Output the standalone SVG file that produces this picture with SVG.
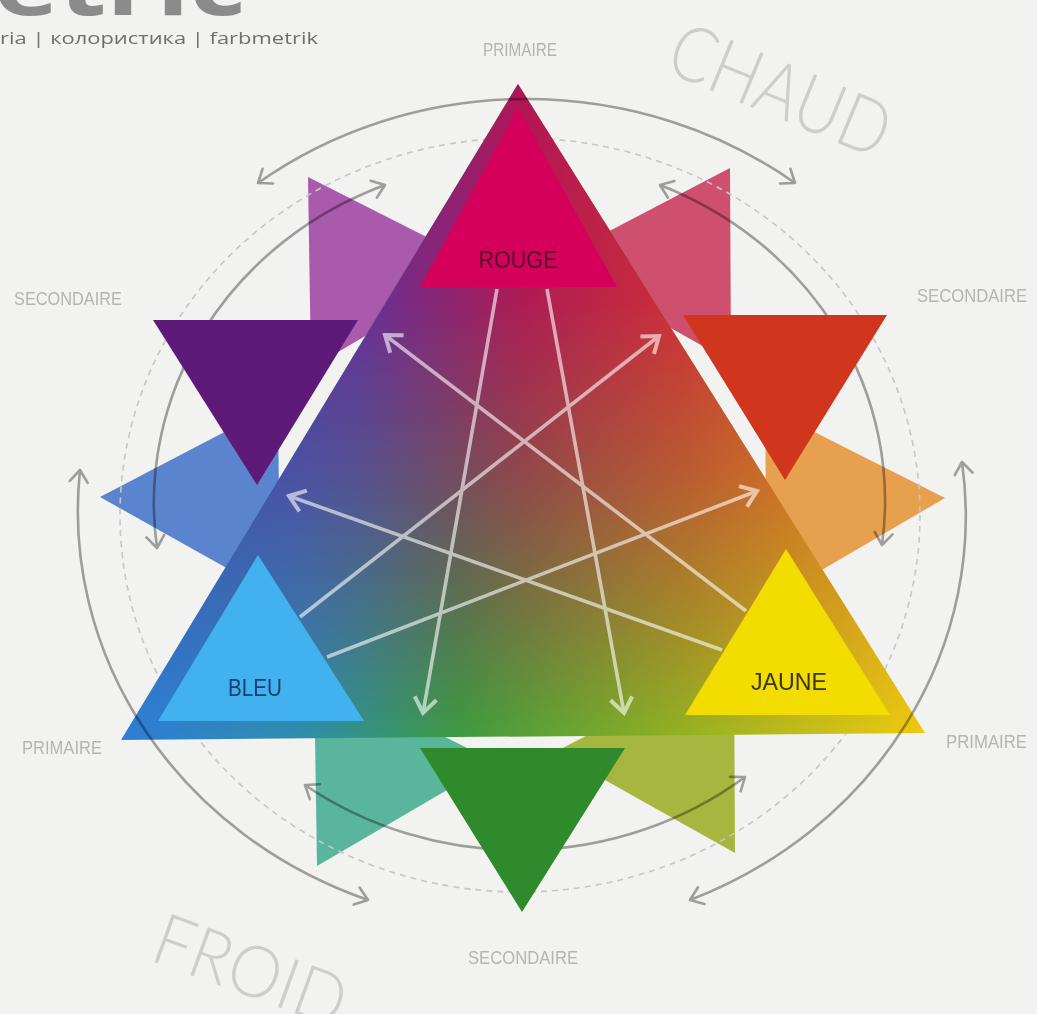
<svg xmlns="http://www.w3.org/2000/svg" width="1037" height="1014" viewBox="0 0 1037 1014">
<style>
.lbl{font-family:"Liberation Sans",Arial,sans-serif;font-size:18px;fill:#b4b4b4}
.big{font-family:Lato,Roboto,"Open Sans",sans-serif;font-weight:300;fill:#cdcdcd}
.prim{font-family:"Liberation Sans",Arial,sans-serif;font-size:23px}
.arc{fill:none;stroke:#a6a6a6;stroke-width:2.6}
</style>
<defs>
<marker id="ah" markerUnits="userSpaceOnUse" orient="auto-start-reverse" overflow="visible" markerWidth="30" markerHeight="30" refX="0" refY="0">
<path d="M-12,-9 L0,0 L-12,9" fill="none" stroke="#a6a6a6" stroke-width="2.6" stroke-linecap="round" stroke-linejoin="round"/>
</marker>
<marker id="wh" markerUnits="userSpaceOnUse" orient="auto" overflow="visible" markerWidth="30" markerHeight="30" refX="0" refY="0">
<path d="M-15,-11 L0,0 L-15,11" fill="none" stroke="#ffffff" stroke-width="4" stroke-linecap="butt" stroke-linejoin="miter"/>
</marker>
<clipPath id="bigClip"><polygon points="518,84 121,740 925,733"/></clipPath>
<linearGradient id="gBottom" gradientUnits="userSpaceOnUse" x1="121" y1="0" x2="925" y2="0">
<stop offset="0" stop-color="#2f7fd8"/>
<stop offset="0.22" stop-color="#2e8fb0"/>
<stop offset="0.42" stop-color="#3d9c40"/>
<stop offset="0.68" stop-color="#8db224"/>
<stop offset="1" stop-color="#f0cc10"/>
</linearGradient>
<linearGradient id="gTop" gradientUnits="userSpaceOnUse" x1="121" y1="0" x2="925" y2="0">
<stop offset="0" stop-color="#3a3aa8"/>
<stop offset="0.3" stop-color="#6a2a96"/>
<stop offset="0.5" stop-color="#b31456"/>
<stop offset="0.7" stop-color="#d0283a"/>
<stop offset="1" stop-color="#e06a20"/>
</linearGradient>
<linearGradient id="gMask" gradientUnits="userSpaceOnUse" x1="0" y1="84" x2="0" y2="740">
<stop offset="0" stop-color="#fff"/>
<stop offset="0.33" stop-color="#f2f2f2"/>
<stop offset="0.6" stop-color="#a0a0a0"/>
<stop offset="0.82" stop-color="#4a4a4a"/>
<stop offset="1" stop-color="#000"/>
</linearGradient>
<mask id="topMask" maskUnits="userSpaceOnUse" x="0" y="0" width="1037" height="1014">
<rect x="0" y="0" width="1037" height="1014" fill="url(#gMask)"/>
</mask>
</defs>

<rect width="1037" height="1014" fill="#f2f2f0"/>

<g id="title">
<text x="-6" y="15" font-family="'Open Sans',Lato,sans-serif" font-weight="bold" font-size="84" fill="#8b8b8b" textLength="252" lengthAdjust="spacingAndGlyphs">etric</text>
<text x="0" y="44" font-family="'Open Sans',Lato,sans-serif" font-size="17" fill="#6e6e6e" textLength="318" lengthAdjust="spacingAndGlyphs">ria | колористика | farbmetrik</text>
</g>

<g id="tertiaries">
<polygon id="t-orange" points="945,498 765,407 767,602" fill="#e7a04e"/>
<polygon id="t-pink" points="730,168 552,261 731,362" fill="#cf4f6e"/>
<polygon id="t-purple" points="308,177 311,368 484,266" fill="#a95aad"/>
<polygon id="t-blue" points="100,497 278,404 280,598" fill="#5b84cf"/>
<polygon id="t-teal" points="317,866 495,762 314,671" fill="#5ab59d"/>
<polygon id="t-yellowgreen" points="735,853 555,752 734,659" fill="#a7b63e"/>
</g>

<ellipse id="dashed-ring" cx="520" cy="515" rx="400" ry="377" fill="none" stroke="#c6c6c6" stroke-width="1.6" stroke-dasharray="6 5"/>

<g id="inner-arcs" style="mix-blend-mode:multiply">
<path class="arc" d="M385,185 A365,342 0 0 0 157,548" marker-start="url(#ah)" marker-end="url(#ah)"/>
<path class="arc" d="M660,185 A365,342 0 0 1 882,545" marker-start="url(#ah)" marker-end="url(#ah)"/>
<path class="arc" d="M305,785 A365,342 0 0 0 745,777" marker-start="url(#ah)" marker-end="url(#ah)"/>
</g>

<g id="secondaries">
<polygon id="s-violet" points="153,320 358,320 257,485" fill="#5e1a78"/>
<polygon id="s-redorange" points="683,315 887,315 785,480" fill="#d0361e"/>
<polygon id="s-green" points="420,748 625,748 522,912" fill="#2e8a2a"/>
</g>

<g id="primary-field">
<g clip-path="url(#bigClip)">
<rect x="100" y="80" width="850" height="670" fill="url(#gBottom)"/>
<rect x="100" y="80" width="850" height="670" fill="url(#gTop)" mask="url(#topMask)"/>
</g>
</g>

<g id="rouge">
<polygon points="518,108 420,287 617,287" fill="#d4005b"/>
<text class="prim" x="518" y="268" text-anchor="middle" fill="#52102c" textLength="79" lengthAdjust="spacingAndGlyphs">ROUGE</text>
</g>
<g id="bleu">
<polygon points="258,555 158,721 364,721" fill="#42b2ee"/>
<text class="prim" x="255" y="696" text-anchor="middle" fill="#1a3c78" textLength="54" lengthAdjust="spacingAndGlyphs">BLEU</text>
</g>
<g id="jaune">
<polygon points="786,549 685,715 890,715" fill="#f3dc00"/>
<text class="prim" x="789" y="690" text-anchor="middle" fill="#3a3512" textLength="76" lengthAdjust="spacingAndGlyphs">JAUNE</text>
</g>

<g id="mix-arrows" opacity="0.6" stroke="#ffffff" stroke-width="3.6" fill="none">
<line x1="497" y1="289" x2="423" y2="713" marker-end="url(#wh)"/>
<line x1="547" y1="289" x2="624" y2="713" marker-end="url(#wh)"/>
<line x1="746" y1="611" x2="385" y2="335" marker-end="url(#wh)"/>
<line x1="300" y1="617" x2="659" y2="336" marker-end="url(#wh)"/>
<line x1="722" y1="650" x2="289" y2="496" marker-end="url(#wh)"/>
<line x1="327" y1="657" x2="757" y2="491" marker-end="url(#wh)"/>
</g>

<g id="outer-arcs" style="mix-blend-mode:multiply">
<path class="arc" d="M258,183 A445,415 0 0 1 795,183" marker-start="url(#ah)" marker-end="url(#ah)"/>
<path class="arc" d="M80,470 A445,415 0 0 0 368,900" marker-start="url(#ah)" marker-end="url(#ah)"/>
<path class="arc" d="M962,462 A445,415 0 0 1 690,900" marker-start="url(#ah)" marker-end="url(#ah)"/>
</g>

<g id="labels">
<text class="lbl" x="520" y="56" text-anchor="middle" textLength="74" lengthAdjust="spacingAndGlyphs">PRIMAIRE</text>
<text class="lbl" x="14" y="305" textLength="108" lengthAdjust="spacingAndGlyphs">SECONDAIRE</text>
<text class="lbl" x="917" y="302" textLength="110" lengthAdjust="spacingAndGlyphs">SECONDAIRE</text>
<text class="lbl" x="22" y="754" textLength="80" lengthAdjust="spacingAndGlyphs">PRIMAIRE</text>
<text class="lbl" x="946" y="748" textLength="81" lengthAdjust="spacingAndGlyphs">PRIMAIRE</text>
<text class="lbl" x="468" y="964" textLength="110" lengthAdjust="spacingAndGlyphs">SECONDAIRE</text>
<text class="big" transform="translate(770,115) rotate(22.5)" text-anchor="middle" font-size="77" textLength="232" lengthAdjust="spacingAndGlyphs">CHAUD</text>
<text class="big" transform="translate(242,994) rotate(20)" text-anchor="middle" font-size="72" textLength="200" lengthAdjust="spacingAndGlyphs">FROID</text>
</g>
</svg>
